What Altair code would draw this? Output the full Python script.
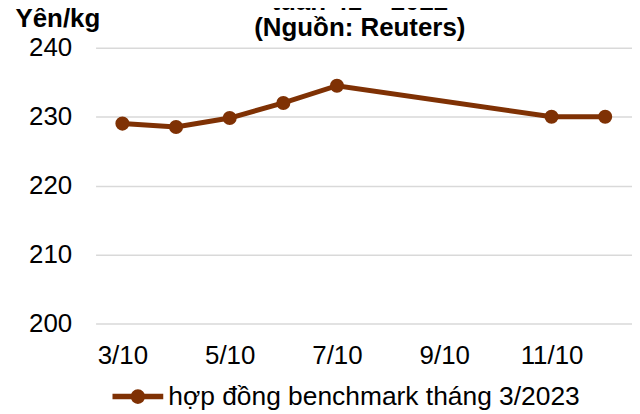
import altair as alt
import pandas as pd

dates = ["3/10", "4/10", "5/10", "6/10", "7/10", "11/10", "12/10"]
prices = [229.0, 228.5, 229.8, 232.0, 234.5, 230.0, 230.0]
series_name = "hợp đồng benchmark tháng 3/2023"
x_ticks = [3, 5, 7, 9, 11]
y_ticks = [200, 210, 220, 230, 240]
title_lines = ["tuần 41 – 2022", "(Nguồn: Reuters)"]
unit = "Yên/kg"

df = pd.DataFrame({
    "label": dates,
    "day": [int(d.split("/")[0]) for d in dates],
    "price": prices,
    "series": [series_name] * len(dates),
})

brown = "#7F3104"
font = "Liberation Sans"
sym_path = "M-1,0L1,0M0.18,0A0.18,0.18,0,1,1,-0.18,0A0.18,0.18,0,1,1,0.18,0Z"

color = alt.Color(
    "series:N",
    scale=alt.Scale(range=[brown]),
    legend=alt.Legend(
        orient="none", legendX=14, legendY=322, title=None,
        symbolType=sym_path, symbolSize=2601, symbolStrokeWidth=5.5,
        symbolFillColor=brown, symbolStrokeColor=brown, symbolOpacity=1,
        labelFont=font, labelFontSize=26.5, labelColor="black",
        labelLimit=1000, labelOffset=2, padding=0,
    ),
)

x = alt.X(
    "day:Q",
    scale=alt.Scale(domain=[2.5, 12.5], nice=False, zero=False),
    axis=alt.Axis(
        values=x_ticks, labelExpr="datum.value + '/10'", grid=False,
        domain=False, ticks=False, tickSize=0, labelPadding=19,
        labelFont=font, labelFontSize=26, labelColor="black", title=None,
    ),
)
y = alt.Y(
    "price:Q",
    scale=alt.Scale(domain=[200, 240], nice=False, zero=False),
    axis=alt.Axis(
        values=y_ticks, grid=True, gridColor="#D9D9D9", gridWidth=1.5,
        domain=False, ticks=False, tickSize=0, labelPadding=24,
        labelFont=font, labelFontSize=26, labelColor="black",
        title=unit, titleAngle=0, titleAlign="left", titleBaseline="alphabetic",
        titleX=-81, titleY=-21, titleFont=font, titleFontSize=26,
        titleFontWeight="bold", titleColor="black",
    ),
)

base = alt.Chart(df)
line = base.mark_line(strokeWidth=5).encode(x=x, y=y, color=color)
pts = base.mark_circle(size=200, opacity=1).encode(x=x, y=y, color=color)

chart = alt.layer(line, pts).properties(
    width=539,
    height=277,
    title=alt.TitleParams(
        text=title_lines, anchor="middle", frame="group", baseline="bottom",
        offset=0, dx=-4, dy=61, lineHeight=26, font=font, fontSize=26,
        fontWeight="bold", color="black",
    ),
    autosize=alt.AutoSizeParams(type="none"),
    padding={"left": 88, "top": 39, "right": 0, "bottom": 88},
).configure_view(stroke=None)

chart.save("out.html", embed_options={"renderer": "svg", "actions": False})
